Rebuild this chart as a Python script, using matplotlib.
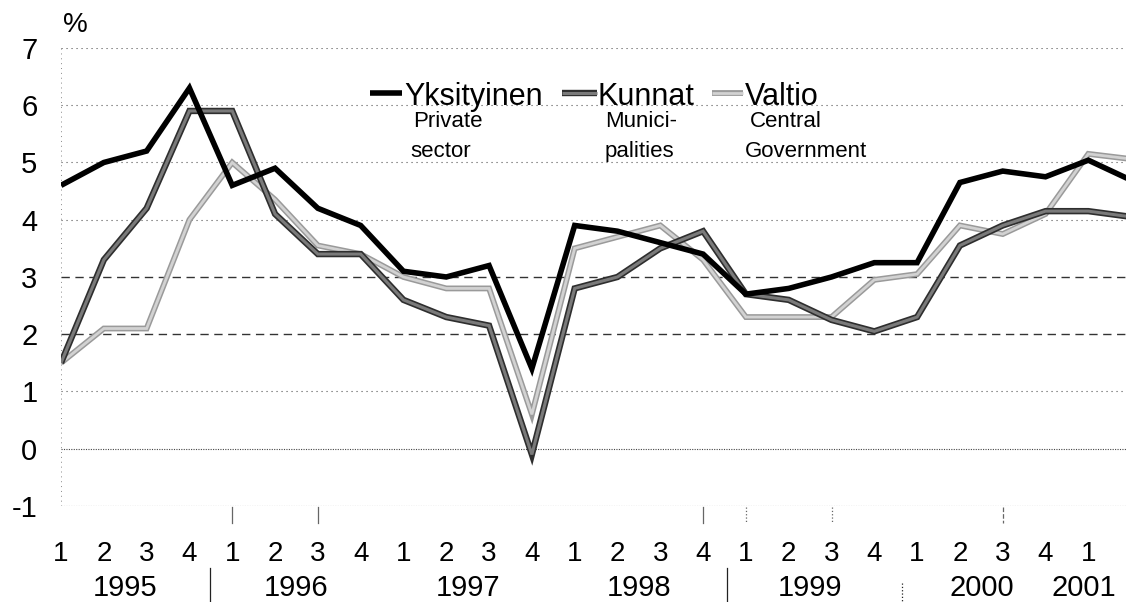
import matplotlib
matplotlib.use("Agg")
import matplotlib.pyplot as plt
import matplotlib.patheffects as pe

plt.rcParams['font.family'] = ['Liberation Sans', 'DejaVu Sans']

# quarterly change, %, 1995 Q1 .. 2001 Q2
quarter_labels = ['1', '2', '3', '4'] * 6 + ['1']
years = ['1995', '1996', '1997', '1998', '1999', '2000', '2001']
yksityinen = [4.6, 5.0, 5.2, 6.3, 4.6, 4.9, 4.2, 3.9, 3.1, 3.0, 3.2, 1.4, 3.9,
              3.8, 3.6, 3.4, 2.7, 2.8, 3.0, 3.25, 3.25, 4.65, 4.85, 4.75, 5.04, 4.69]
kunnat = [1.5, 3.3, 4.2, 5.9, 5.9, 4.1, 3.4, 3.4, 2.6, 2.3, 2.15, -0.1, 2.8,
          3.0, 3.5, 3.8, 2.7, 2.6, 2.25, 2.05, 2.3, 3.55, 3.9, 4.15, 4.15, 4.05]
valtio = [1.5, 2.1, 2.1, 4.0, 5.0, 4.35, 3.55, 3.4, 3.0, 2.8, 2.8, 0.6, 3.5,
          3.7, 3.9, 3.3, 2.3, 2.3, 2.3, 2.95, 3.05, 3.9, 3.75, 4.1, 5.15, 5.06]
y_ticks = [-1, 0, 1, 2, 3, 4, 5, 6, 7]

x = list(range(len(yksityinen)))

# line styles: (inner colour, inner width, outline colour, outline width)
styles = {
    'valtio': ('#d2d2d2', 2.0, '#9a9a9a', 4.2),
    'kunnat': ('#7a7a7a', 2.2, '#2e2e2e', 4.6),
    'yks': ('black', 4.0, None, None),
}


def style_kw(name):
    c, lw, oc, olw = styles[name]
    kw = dict(color=c, lw=lw, solid_joinstyle='miter', solid_capstyle='butt')
    if oc:
        kw['path_effects'] = [pe.Stroke(linewidth=olw, foreground=oc), pe.Normal()]
    return kw


fig = plt.figure(figsize=(11.26, 6.02), dpi=100)
ax = fig.add_axes([0.0542, 0.1595, 0.9458, 0.7608])

# grid
for yv in y_ticks:
    if yv in (2, 3):
        ax.axhline(yv, color='#333333', lw=1.0, ls=(0, (6, 4)), zorder=1)
    elif yv in (0, -1):
        ax.axhline(yv, color='#444444', lw=0.8, ls=(0, (1, 1.2)), zorder=1)
    else:
        ax.axhline(yv, color='#555555', lw=0.8, ls=(0, (1, 3.5)), zorder=1)
ax.axvline(0, color='#888888', lw=0.7, ls=(0, (1, 4)), zorder=1)

ax.plot(x, valtio, zorder=3, **style_kw('valtio'))
ax.plot(x, kunnat, zorder=4, **style_kw('kunnat'))
ax.plot(x, yksityinen, zorder=5, **style_kw('yks'))

ax.set_xlim(0, 24.88)
ax.set_ylim(-1, 7)
for s in ax.spines.values():
    s.set_visible(False)

ax.set_yticks(y_ticks)
ax.set_yticklabels([str(v) for v in y_ticks])
ax.tick_params(axis='y', length=0, pad=17, labelsize=21)
ax.set_xticks(x[:len(quarter_labels)])
ax.set_xticklabels(quarter_labels)
ax.tick_params(axis='x', length=0, pad=25, labelsize=20)

tr = ax.get_xaxis_transform()
for i, yr in enumerate(years):
    if yr == '2001':
        xc = 23.9
    else:
        xc = i * 4 + 1.5
    ax.text(xc, -0.178, yr, transform=tr, ha='center', va='center',
            fontsize=21, clip_on=False)

# year separators and small tick marks under the axis
for xs, ls, y0 in [(3.47, '-', -0.135), (15.56, '-', -0.135), (19.65, ':', -0.168)]:
    ax.plot([xs, xs], [y0, -0.215], transform=tr, color='#222222', lw=0.9,
            ls=ls, clip_on=False)
for xs, ls in [(4, '-'), (6, '-'), (15, '-'), (16, ':'), (18, ':'), (22, '--')]:
    ax.plot([xs, xs], [-0.002, -0.037], transform=tr, color='#666666', lw=0.9,
            ls=ls, clip_on=False)

ax.text(0.002, 1.05, '%', transform=ax.transAxes, fontsize=20,
        ha='left', va='center')

# inline legend
legend_items = [
    ('yks', 0.290, 0.320, 'Yksityinen', 0.322, 'Private', 0.3305, 'sector', 0.3277),
    ('kunnat', 0.4704, 0.5033, 'Kunnat', 0.5042, 'Munici-', 0.5108, 'palities', 0.5108),
    ('valtio', 0.6113, 0.6404, 'Valtio', 0.6423, 'Central', 0.647, 'Government', 0.6423),
]
for name, x0, x1, fi, xf, en1, xe1, en2, xe2 in legend_items:
    ax.plot([x0, x1], [0.902, 0.902], transform=ax.transAxes, zorder=6,
            **style_kw(name))
    ax.text(xf, 0.8755, fi, transform=ax.transAxes, fontsize=22,
            ha='left', va='baseline', zorder=6)
    ax.text(xe1, 0.8275, en1, transform=ax.transAxes, fontsize=16,
            ha='left', va='baseline', zorder=6)
    ax.text(xe2, 0.762, en2, transform=ax.transAxes, fontsize=16,
            ha='left', va='baseline', zorder=6)

fig.savefig('out.png', dpi=100)
